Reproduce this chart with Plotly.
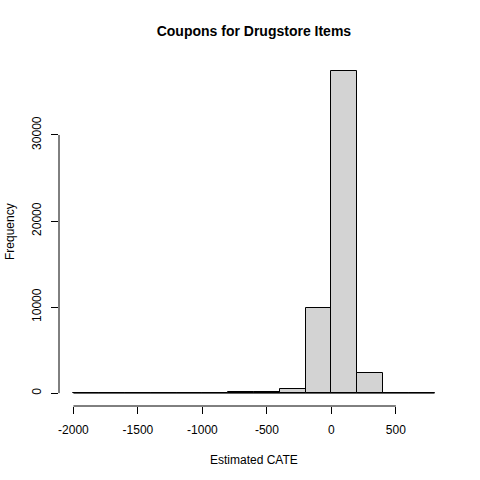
import plotly.graph_objs as go

# histogram of estimated CATE, bin width 200
bin_edges = [-2000, -1800, -1600, -1400, -1200, -1000, -800, -600, -400, -200, 0, 200, 400, 600, 800]
counts = [2, 3, 5, 8, 12, 20, 120, 170, 470, 9900, 37450, 2330, 3, 1]
x_ticks = [-2000, -1500, -1000, -500, 0, 500]
y_ticks = [0, 10000, 20000, 30000]

centers = [(a + b) / 2 for a, b in zip(bin_edges[:-1], bin_edges[1:])]
widths = [b - a for a, b in zip(bin_edges[:-1], bin_edges[1:])]

font = "Liberation Sans, Arial, sans-serif"

fig = go.Figure()
fig.add_trace(
    go.Bar(
        x=centers,
        y=counts,
        width=widths,
        marker=dict(color="#D3D3D3", line=dict(color="black", width=1)),
        showlegend=False,
    )
)
# zero-height bins still show as a flat line in R
fig.add_trace(
    go.Scatter(
        x=[bin_edges[0], bin_edges[-1]],
        y=[0, 0],
        mode="lines",
        line=dict(color="black", width=1),
        showlegend=False,
    )
)

xlo, xhi = bin_edges[0], bin_edges[-1]
xpad = 0.04 * (xhi - xlo)
ymax = max(counts)
ypad = 0.04 * ymax

fig.update_layout(
    width=480,
    height=480,
    margin=dict(l=59, r=31, t=58, b=74),
    plot_bgcolor="white",
    paper_bgcolor="white",
    font=dict(family=font, size=12, color="black"),
    bargap=0,
    title=dict(
        text="<b>Coupons for Drugstore Items</b>",
        x=0.529, xanchor="center", y=1 - 31 / 480, yanchor="middle",
        font=dict(size=14),
    ),
    xaxis=dict(
        range=[xlo - xpad, xhi + xpad],
        tickvals=x_ticks,
        ticktext=[str(v) for v in x_ticks],
        ticks="outside", ticklen=7, tickcolor="black",
        ticklabelstandoff=6,
        showgrid=False, zeroline=False, showline=False,
        automargin=False,
    ),
    yaxis=dict(
        range=[-ypad, ymax + ypad],
        tickvals=y_ticks,
        ticktext=[str(v) for v in y_ticks],
        tickangle=-90,
        ticks="outside", ticklen=7, tickcolor="black",
        ticklabelstandoff=5,
        showgrid=False, zeroline=False, showline=False,
        automargin=False,
    ),
    annotations=[
        dict(text="Estimated CATE", xref="paper", yref="paper",
             x=0.5, y=-(460 - 406) / 348, xanchor="center", yanchor="middle",
             showarrow=False, font=dict(size=12)),
        dict(text="Frequency", xref="paper", yref="paper",
             x=-(59 - 10) / 390, y=0.5, xanchor="center", yanchor="middle",
             textangle=-90, showarrow=False, font=dict(size=12)),
    ],
)
fig.add_shape(type="line", xref="x", yref="paper",
              x0=x_ticks[0], x1=x_ticks[-1], y0=0, y1=0,
              line=dict(color="black", width=1))
fig.add_shape(type="line", xref="paper", yref="y",
              x0=0, x1=0, y0=y_ticks[0], y1=y_ticks[-1],
              line=dict(color="black", width=1))

fig.write_html(
    "out.html",
    config={"displayModeBar": False},
    post_script="document.body.style.margin='0';",
)
